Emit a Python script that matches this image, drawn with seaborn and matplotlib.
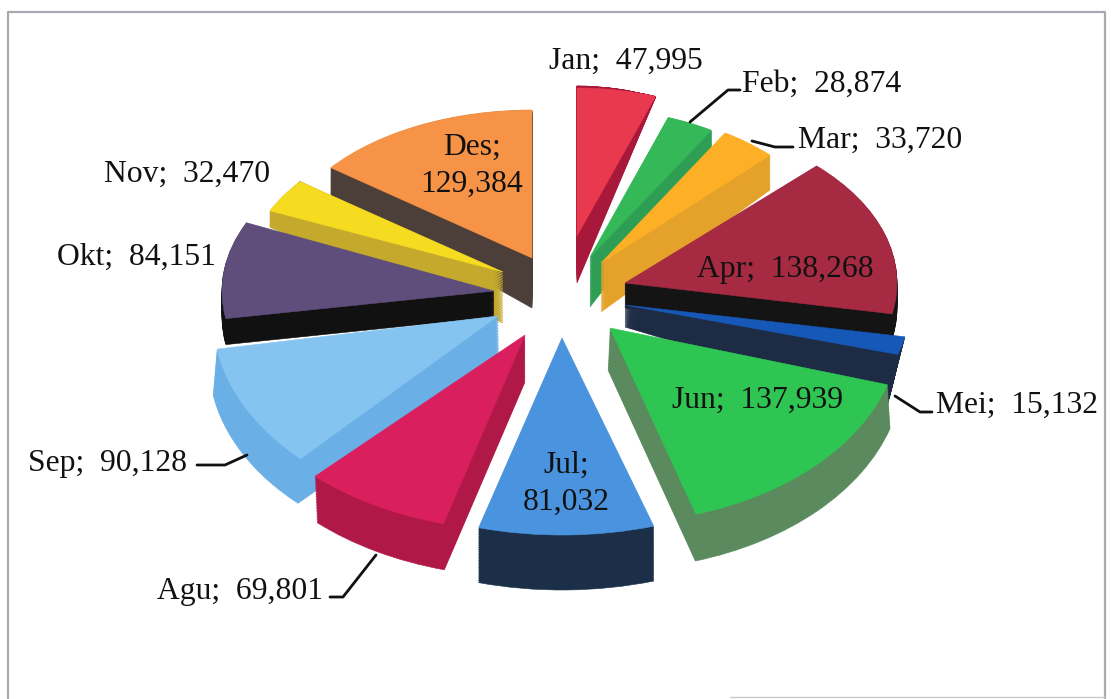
import numpy as np
import matplotlib
matplotlib.use('Agg')
import matplotlib.pyplot as plt
from matplotlib.transforms import Affine2D
import seaborn as sns

months = ['Jan', 'Feb', 'Mar', 'Apr', 'Mei', 'Jun', 'Jul', 'Agu', 'Sep', 'Okt', 'Nov', 'Des']
values = [47995, 28874, 33720, 138268, 15132, 137939, 81032, 69801, 90128, 84151, 32470, 129384]

top_colors = ['#E8394F', '#35B857', '#FDB025', '#A52A42', '#1558B8', '#2FC552',
              '#4A94DF', '#D91F5E', '#85C4F0', '#5F4E7C', '#F5DC20', '#F79346']
side_colors = ['#A8183A', '#2F9E55', '#E5A22B', '#141414', '#1E2B45', '#5A8A5E',
               '#1B3048', '#B01848', '#6AAFE5', '#111111', '#C4A92D', '#4C3F3A']

# fake 3d: each slice has a top and a bottom ellipse (x, y, rx, ry in pixels)
top_face = [(577, 236, 236, 148), (590, 257, 235, 148), (601, 263, 240, 152), (625, 283, 272, 165),
            (625, 305, 285, 170), (610, 328, 290, 195), (562, 338, 310, 197), (525, 335, 303, 196),
            (498, 316, 285, 198), (494, 291, 272, 165), (503, 272, 256, 148), (532, 258, 254, 148)]
bottom_face = [(577, 283, 236, 197), (590, 307, 235, 183), (601, 312, 240, 172), (625, 308, 272, 165),
               (625, 327, 274, 270), (608, 370, 295, 200), (562, 390, 310, 200), (525, 382, 300, 195),
               (499, 362, 290, 196), (494, 317, 272, 165), (503, 323, 256, 231), (532, 308, 254, 185)]
draw_order = [11, 0, 1, 2, 10, 9, 3, 4, 8, 5, 7, 6]

label_pos = [(626, 61), (822, 84), (880, 140), (785, 270), (1017, 405), (758, 400),
             (566, 484), (240, 591), (107, 463), (136, 257), (187, 174), (472, 166)]
two_line = ['Jul', 'Des']
leaders = [[(690, 122), (728, 90), (740, 90)],
           [(752, 141), (775, 147), (793, 147)],
           [(895, 396), (920, 412), (932, 412)],
           [(197, 465), (225, 465), (247, 455)],
           [(330, 597), (343, 597), (376, 555)]]

sns.set_theme(style='white')
plt.rcParams['font.family'] = ['Liberation Serif', 'DejaVu Serif']

fig, ax = plt.subplots(figsize=(11.11, 6.99), dpi=100)
fig.subplots_adjust(left=0, right=1, top=1, bottom=0)


def draw_layer(colors, face, zorder):
    wedges, _ = ax.pie(values, colors=colors, startangle=90, counterclock=False)
    for i, w in enumerate(wedges):
        x, y, rx, ry = face[i]
        w.set_transform(Affine2D().scale(rx, -ry).translate(x, y) + ax.transData)
        w.set_edgecolor(colors[i])
        w.set_linewidth(0.4)
        w.set_zorder(zorder + draw_order.index(i) * 10)


n_steps = 30
for step in range(n_steps):
    t = step / n_steps
    face = [tuple((1 - t) * b + t * a for a, b in zip(top_face[i], bottom_face[i])) for i in range(12)]
    draw_layer(side_colors, face, 2 + t)
draw_layer(top_colors, top_face, 5)

ax.set_aspect('auto')
ax.set_xlim(0, 1111)
ax.set_ylim(699, 0)
ax.axis('off')

# page border
ax.plot([8, 8, 1105, 1105], [699, 12, 12, 699], color='#A9A9B2', lw=1.6, zorder=1)
ax.plot([730, 1105], [697, 697], color='#C8C8CE', lw=1.0, zorder=1)

for line in leaders:
    ax.plot([p[0] for p in line], [p[1] for p in line], color='#111111', lw=2, zorder=300)

for m, v, pos in zip(months, values, label_pos):
    sep = '\n' if m in two_line else '  '
    ax.text(pos[0], pos[1], f'{m};{sep}{v:,}', ha='center', va='center', fontsize=22.8,
            color='#111111', linespacing=1.35, zorder=301)

fig.savefig('out.png', dpi=100)
